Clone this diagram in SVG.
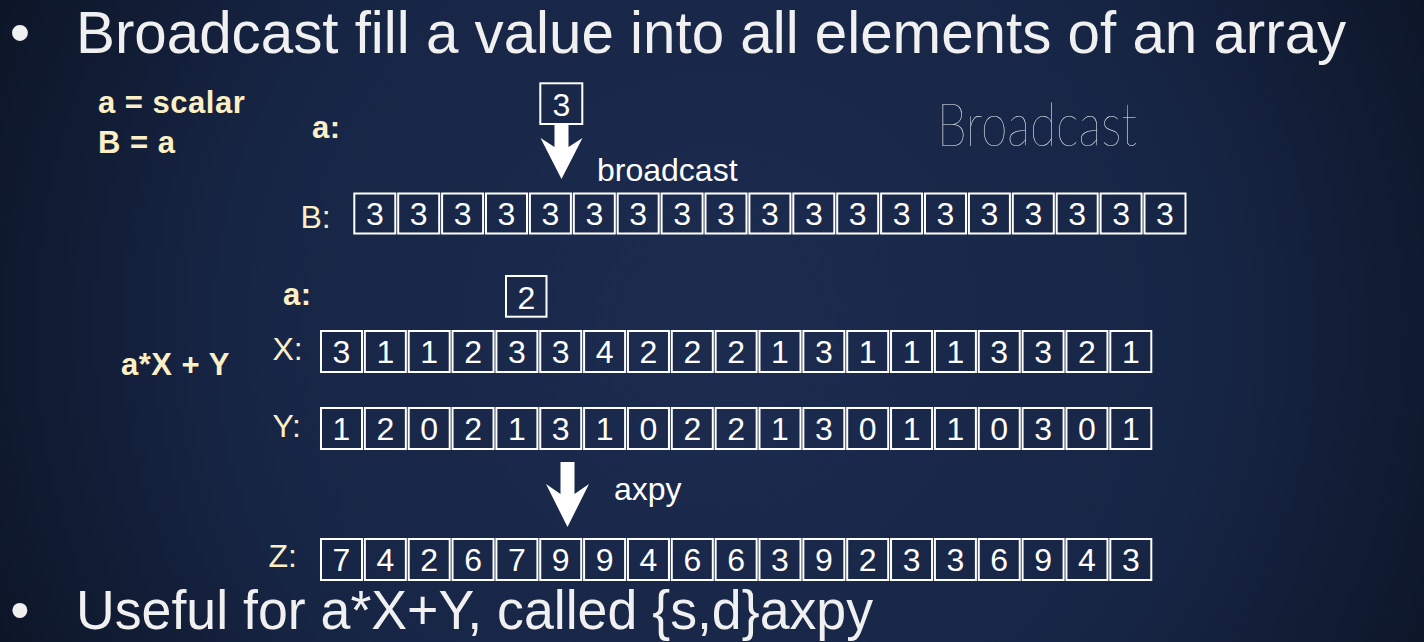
<svg xmlns="http://www.w3.org/2000/svg" width="1424" height="642" viewBox="0 0 1424 642">
<defs>
<radialGradient id="bg" cx="720" cy="330" r="820" gradientUnits="userSpaceOnUse">
<stop offset="0" stop-color="#1c2c4f"/>
<stop offset="0.6" stop-color="#172545"/>
<stop offset="1" stop-color="#0c1424"/>
</radialGradient>
<style>
.cell{fill:none;stroke:#ffffff;stroke-width:2}
.dg{font-family:"Liberation Sans",Arial,sans-serif;font-size:32px;fill:#ffffff;text-anchor:middle}
.lbl{font-family:"Liberation Sans",Arial,sans-serif;font-size:32px;fill:#fcefc6}
.bl{font-family:"Liberation Sans",Arial,sans-serif;font-size:31px;font-weight:bold;fill:#fcefc6;letter-spacing:0.5px}
.big{font-family:"Liberation Sans",Arial,sans-serif;font-size:58.3px;fill:#f0f0f0}
.foot{font-family:"Liberation Sans",Arial,sans-serif;font-size:55px;fill:#f0f0f0}
.wt{font-family:"Liberation Sans",Arial,sans-serif;font-size:32px;fill:#ffffff}
.arrow{fill:#ffffff;stroke:none}
</style>
</defs>
<rect x="0" y="0" width="1424" height="642" fill="url(#bg)"/>

<g id="title">
<text class="big" x="20" y="53" text-anchor="middle">•</text>
<text class="big" x="76" y="53">Broadcast fill a value into all elements of an array</text>
</g>

<g id="handwriting">
<text x="937" y="146" font-family="Lato,'Open Sans',sans-serif" font-weight="200" font-size="60" fill="#e8ecf2" textLength="200" lengthAdjust="spacingAndGlyphs">Broadcast</text>
</g>

<g id="desc1">
<text class="bl" x="98" y="113">a = scalar</text>
<text class="bl" x="98" y="153">B = a</text>
</g>
<g id="desc2">
<text class="bl" x="121" y="375">a*X + Y</text>
</g>

<g id="scalar-a1">
<text class="bl" x="312" y="138">a:</text>
<rect class="cell" x="540.3" y="83.3" width="42" height="40.7"/>
<text class="dg" x="561.3" y="115.5">3</text>
</g>

<g id="scalar-a2">
<text class="bl" x="283" y="305">a:</text>
<rect class="cell" x="506" y="276" width="40.5" height="40.7"/>
<text class="dg" x="526.3" y="308.5">2</text>
</g>

<g id="array-B">
<text class="lbl" x="300.5" y="228">B:</text>
<rect class="cell" x="354.3" y="193.5" width="41" height="40"/>
<rect class="cell" x="398.2" y="193.5" width="41" height="40"/>
<rect class="cell" x="442.1" y="193.5" width="41" height="40"/>
<rect class="cell" x="486.0" y="193.5" width="41" height="40"/>
<rect class="cell" x="529.9" y="193.5" width="41" height="40"/>
<rect class="cell" x="573.8" y="193.5" width="41" height="40"/>
<rect class="cell" x="617.7" y="193.5" width="41" height="40"/>
<rect class="cell" x="661.6" y="193.5" width="41" height="40"/>
<rect class="cell" x="705.5" y="193.5" width="41" height="40"/>
<rect class="cell" x="749.4" y="193.5" width="41" height="40"/>
<rect class="cell" x="793.3" y="193.5" width="41" height="40"/>
<rect class="cell" x="837.2" y="193.5" width="41" height="40"/>
<rect class="cell" x="881.1" y="193.5" width="41" height="40"/>
<rect class="cell" x="925.0" y="193.5" width="41" height="40"/>
<rect class="cell" x="968.9" y="193.5" width="41" height="40"/>
<rect class="cell" x="1012.8" y="193.5" width="41" height="40"/>
<rect class="cell" x="1056.7" y="193.5" width="41" height="40"/>
<rect class="cell" x="1100.6" y="193.5" width="41" height="40"/>
<rect class="cell" x="1144.5" y="193.5" width="41" height="40"/>
<text class="dg" x="374.8" y="225">3</text>
<text class="dg" x="418.7" y="225">3</text>
<text class="dg" x="462.6" y="225">3</text>
<text class="dg" x="506.5" y="225">3</text>
<text class="dg" x="550.4" y="225">3</text>
<text class="dg" x="594.3" y="225">3</text>
<text class="dg" x="638.2" y="225">3</text>
<text class="dg" x="682.1" y="225">3</text>
<text class="dg" x="726.0" y="225">3</text>
<text class="dg" x="769.9" y="225">3</text>
<text class="dg" x="813.8" y="225">3</text>
<text class="dg" x="857.7" y="225">3</text>
<text class="dg" x="901.6" y="225">3</text>
<text class="dg" x="945.5" y="225">3</text>
<text class="dg" x="989.4" y="225">3</text>
<text class="dg" x="1033.3" y="225">3</text>
<text class="dg" x="1077.2" y="225">3</text>
<text class="dg" x="1121.1" y="225">3</text>
<text class="dg" x="1165.0" y="225">3</text>
</g>

<g id="array-X">
<text class="lbl" x="272.5" y="360">X:</text>
<rect class="cell" x="321" y="331" width="41" height="41"/>
<rect class="cell" x="364.85" y="331" width="41" height="41"/>
<rect class="cell" x="408.7" y="331" width="41" height="41"/>
<rect class="cell" x="452.55" y="331" width="41" height="41"/>
<rect class="cell" x="496.4" y="331" width="41" height="41"/>
<rect class="cell" x="540.25" y="331" width="41" height="41"/>
<rect class="cell" x="584.1" y="331" width="41" height="41"/>
<rect class="cell" x="627.95" y="331" width="41" height="41"/>
<rect class="cell" x="671.8" y="331" width="41" height="41"/>
<rect class="cell" x="715.65" y="331" width="41" height="41"/>
<rect class="cell" x="759.5" y="331" width="41" height="41"/>
<rect class="cell" x="803.35" y="331" width="41" height="41"/>
<rect class="cell" x="847.2" y="331" width="41" height="41"/>
<rect class="cell" x="891.05" y="331" width="41" height="41"/>
<rect class="cell" x="934.9" y="331" width="41" height="41"/>
<rect class="cell" x="978.75" y="331" width="41" height="41"/>
<rect class="cell" x="1022.6" y="331" width="41" height="41"/>
<rect class="cell" x="1066.45" y="331" width="41" height="41"/>
<rect class="cell" x="1110.3" y="331" width="41" height="41"/>
<text class="dg" x="341.5" y="363">3</text>
<text class="dg" x="385.35" y="363">1</text>
<text class="dg" x="429.2" y="363">1</text>
<text class="dg" x="473.05" y="363">2</text>
<text class="dg" x="516.9" y="363">3</text>
<text class="dg" x="560.75" y="363">3</text>
<text class="dg" x="604.6" y="363">4</text>
<text class="dg" x="648.45" y="363">2</text>
<text class="dg" x="692.3" y="363">2</text>
<text class="dg" x="736.15" y="363">2</text>
<text class="dg" x="780.0" y="363">1</text>
<text class="dg" x="823.85" y="363">3</text>
<text class="dg" x="867.7" y="363">1</text>
<text class="dg" x="911.55" y="363">1</text>
<text class="dg" x="955.4" y="363">1</text>
<text class="dg" x="999.25" y="363">3</text>
<text class="dg" x="1043.1" y="363">3</text>
<text class="dg" x="1086.95" y="363">2</text>
<text class="dg" x="1130.8" y="363">1</text>
</g>

<g id="array-Y">
<text class="lbl" x="272.5" y="437">Y:</text>
<rect class="cell" x="321" y="408" width="41" height="41"/>
<rect class="cell" x="364.85" y="408" width="41" height="41"/>
<rect class="cell" x="408.7" y="408" width="41" height="41"/>
<rect class="cell" x="452.55" y="408" width="41" height="41"/>
<rect class="cell" x="496.4" y="408" width="41" height="41"/>
<rect class="cell" x="540.25" y="408" width="41" height="41"/>
<rect class="cell" x="584.1" y="408" width="41" height="41"/>
<rect class="cell" x="627.95" y="408" width="41" height="41"/>
<rect class="cell" x="671.8" y="408" width="41" height="41"/>
<rect class="cell" x="715.65" y="408" width="41" height="41"/>
<rect class="cell" x="759.5" y="408" width="41" height="41"/>
<rect class="cell" x="803.35" y="408" width="41" height="41"/>
<rect class="cell" x="847.2" y="408" width="41" height="41"/>
<rect class="cell" x="891.05" y="408" width="41" height="41"/>
<rect class="cell" x="934.9" y="408" width="41" height="41"/>
<rect class="cell" x="978.75" y="408" width="41" height="41"/>
<rect class="cell" x="1022.6" y="408" width="41" height="41"/>
<rect class="cell" x="1066.45" y="408" width="41" height="41"/>
<rect class="cell" x="1110.3" y="408" width="41" height="41"/>
<text class="dg" x="341.5" y="440">1</text>
<text class="dg" x="385.35" y="440">2</text>
<text class="dg" x="429.2" y="440">0</text>
<text class="dg" x="473.05" y="440">2</text>
<text class="dg" x="516.9" y="440">1</text>
<text class="dg" x="560.75" y="440">3</text>
<text class="dg" x="604.6" y="440">1</text>
<text class="dg" x="648.45" y="440">0</text>
<text class="dg" x="692.3" y="440">2</text>
<text class="dg" x="736.15" y="440">2</text>
<text class="dg" x="780.0" y="440">1</text>
<text class="dg" x="823.85" y="440">3</text>
<text class="dg" x="867.7" y="440">0</text>
<text class="dg" x="911.55" y="440">1</text>
<text class="dg" x="955.4" y="440">1</text>
<text class="dg" x="999.25" y="440">0</text>
<text class="dg" x="1043.1" y="440">3</text>
<text class="dg" x="1086.95" y="440">0</text>
<text class="dg" x="1130.8" y="440">1</text>
</g>

<g id="array-Z">
<text class="lbl" x="268.5" y="567">Z:</text>
<rect class="cell" x="321" y="539" width="41" height="41"/>
<rect class="cell" x="364.85" y="539" width="41" height="41"/>
<rect class="cell" x="408.7" y="539" width="41" height="41"/>
<rect class="cell" x="452.55" y="539" width="41" height="41"/>
<rect class="cell" x="496.4" y="539" width="41" height="41"/>
<rect class="cell" x="540.25" y="539" width="41" height="41"/>
<rect class="cell" x="584.1" y="539" width="41" height="41"/>
<rect class="cell" x="627.95" y="539" width="41" height="41"/>
<rect class="cell" x="671.8" y="539" width="41" height="41"/>
<rect class="cell" x="715.65" y="539" width="41" height="41"/>
<rect class="cell" x="759.5" y="539" width="41" height="41"/>
<rect class="cell" x="803.35" y="539" width="41" height="41"/>
<rect class="cell" x="847.2" y="539" width="41" height="41"/>
<rect class="cell" x="891.05" y="539" width="41" height="41"/>
<rect class="cell" x="934.9" y="539" width="41" height="41"/>
<rect class="cell" x="978.75" y="539" width="41" height="41"/>
<rect class="cell" x="1022.6" y="539" width="41" height="41"/>
<rect class="cell" x="1066.45" y="539" width="41" height="41"/>
<rect class="cell" x="1110.3" y="539" width="41" height="41"/>
<text class="dg" x="341.5" y="571">7</text>
<text class="dg" x="385.35" y="571">4</text>
<text class="dg" x="429.2" y="571">2</text>
<text class="dg" x="473.05" y="571">6</text>
<text class="dg" x="516.9" y="571">7</text>
<text class="dg" x="560.75" y="571">9</text>
<text class="dg" x="604.6" y="571">9</text>
<text class="dg" x="648.45" y="571">4</text>
<text class="dg" x="692.3" y="571">6</text>
<text class="dg" x="736.15" y="571">6</text>
<text class="dg" x="780.0" y="571">3</text>
<text class="dg" x="823.85" y="571">9</text>
<text class="dg" x="867.7" y="571">2</text>
<text class="dg" x="911.55" y="571">3</text>
<text class="dg" x="955.4" y="571">3</text>
<text class="dg" x="999.25" y="571">6</text>
<text class="dg" x="1043.1" y="571">9</text>
<text class="dg" x="1086.95" y="571">4</text>
<text class="dg" x="1130.8" y="571">3</text>
</g>

<g id="connectors">
<path class="arrow" d="M554.5,125 V147 L540.5,138 L561.5,179 L582.5,138 L568.5,147 V125 Z"/>
<text class="wt" x="597" y="181">broadcast</text>
<path class="arrow" d="M560.5,462 V494 L546,484 L567.5,527 L589,484 L574.5,494 V462 Z"/>
<text class="wt" x="614" y="500">axpy</text>
</g>

<g id="footer">
<text class="foot" x="20" y="629" text-anchor="middle">•</text>
<text class="foot" x="76" y="629" textLength="797" lengthAdjust="spacingAndGlyphs">Useful for a*X+Y, called {s,d}axpy</text>
</g>
</svg>
